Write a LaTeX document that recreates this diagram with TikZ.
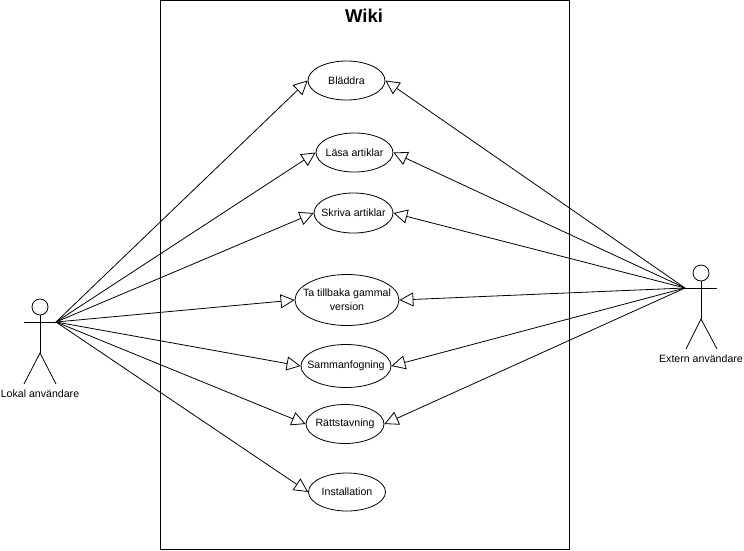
\documentclass[tikz,border=0pt]{standalone}
\usepackage{fontspec}
\setmainfont{Liberation Sans}
\usetikzlibrary{arrows.meta, shapes.geometric}
\tikzset{
    usecase/.style={draw, ellipse, inner sep=-20pt, align=center, font=\fontsize{10.6}{14}\selectfont},
    actorname/.style={font=\fontsize{10.6}{13}\selectfont},
    actorhead/.style={draw, circle, inner sep=0pt, minimum size=16pt},
    generalize/.style={-{Triangle[open, length=14pt, width=14pt]}}
}

\begin{document}
\begin{tikzpicture}[x=1pt, y=-1pt, line width=0.8pt]
        \useasboundingbox (0,0) rectangle (744,550);
        \node[draw, minimum width=409pt, minimum height=549pt, inner sep=0pt] (wiki) at (364.5,274.5) {};
        \node[font=\fontsize{18.5}{20}\bfseries\selectfont] (title) at (364,16) {Wiki};

        \node[usecase, minimum width=77pt, minimum height=39pt] (bladdra) at (346.5,80.5) {Bläddra};
        \node[usecase, minimum width=77pt, minimum height=39pt] (lasa) at (354.5,152.5) {Läsa artiklar};
        \node[usecase, minimum width=79pt, minimum height=40pt] (skriva) at (353.5,213) {Skriva artiklar};
        \node[usecase, minimum width=104pt, minimum height=51pt] (tillbaka) at (347,300) {Ta tillbaka gammal\\version};
        \node[usecase, minimum width=90pt, minimum height=43pt] (samman) at (346,366) {Sammanfogning};
        \node[usecase, minimum width=78pt, minimum height=39pt] (ratt) at (345,424) {Rättstavning};
        \node[usecase, minimum width=77pt, minimum height=38pt] (install) at (347,492) {Installation};

        % lokal
        \node[actorhead] (lhead) at (40,307) {};
        \coordinate (lhand) at (56,322);
        \coordinate (larm) at (24,322);
        \coordinate (lhip) at (40,353);
        \coordinate (lfoota) at (24,384);
        \coordinate (lfootb) at (56,384);
        \node[actorname] (lname) at (40,394) {Lokal användare};
        \draw (lhead) -- (lhip);
        \draw (larm) -- (lhand);
        \draw (lfoota) -- (lhip) -- (lfootb);

        % extern
        \node[actorhead] (rhead) at (701,273) {};
        \coordinate (rhand) at (685,288);
        \coordinate (rarm) at (717,288);
        \coordinate (rhip) at (701,319);
        \coordinate (rfoota) at (686,349);
        \coordinate (rfootb) at (717,349);
        \node[actorname] (rname) at (701,359) {Extern användare};
        \draw (rhead) -- (rhip);
        \draw (rhand) -- (rarm);
        \draw (rfoota) -- (rhip) -- (rfootb);

        \foreach \usecase in {bladdra, lasa, skriva, tillbaka, samman, ratt, install}
            \draw[generalize] (lhand) -- (\usecase.west);
        \foreach \usecase in {bladdra, lasa, skriva, tillbaka, samman, ratt}
            \draw[generalize] (rhand) -- (\usecase.east);
    \end{tikzpicture}
\end{document}
